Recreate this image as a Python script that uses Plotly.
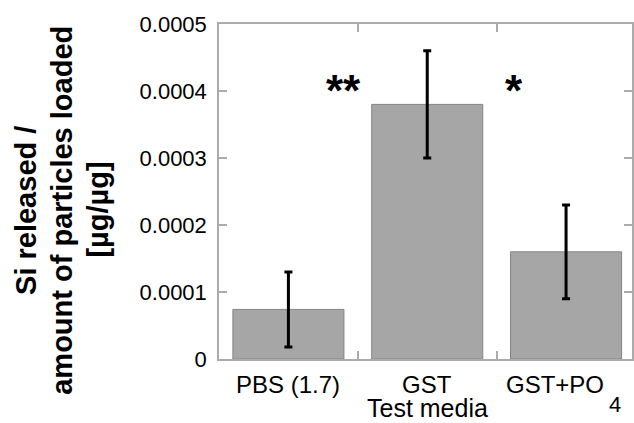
import plotly.graph_objects as go

categories = ["PBS (1.7)", "GST", "GST+PO4"]
tick_labels = ["PBS (1.7)", "GST", "GST+PO"]
label_subscripts = ["", "", "4"]
values = [0.000074, 0.00038, 0.00016]
errors = [0.000056, 0.00008, 0.00007]
ytick_vals = [0, 0.0001, 0.0002, 0.0003, 0.0004, 0.0005]
ytick_text = ["0", "0.0001", "0.0002", "0.0003", "0.0004", "0.0005"]
title_lines = ["Si released /", "amount of particles loaded", "[µg/µg]"]
sig_labels = ["**", "*"]

W, H = 634, 423
L, R, T, B = 219, 0, 24, 64
pw, ph = W - L - R, H - T - B

def px_x(px):
    return (px - L) / pw

def px_y(py):
    return (H - B - py) / ph

axis_col = "#ababab"
font_fam = "Liberation Sans, Arial, sans-serif"

fig = go.Figure()
fig.add_trace(go.Bar(
    x=categories, y=values, width=0.8,
    marker=dict(color="#a6a6a6", line=dict(color="#858585", width=1)),
    error_y=dict(type="data", array=errors, color="black", thickness=3, width=4),
))

annotations = []
for i, (line, pxx) in enumerate(zip(title_lines, [25, 61, 97])):
    annotations.append(dict(
        text="<b>" + line + "</b>", xref="paper", yref="paper",
        x=px_x(pxx), y=px_y(210), xanchor="center", yanchor="middle",
        textangle=-90, showarrow=False,
        font=dict(size=29, color="black", family=font_fam),
    ))
for lab, pxx in zip(sig_labels, [344, 515]):
    annotations.append(dict(
        text="<b>" + lab + "</b>", xref="paper", yref="paper",
        x=px_x(pxx), y=px_y(90), xanchor="center", yanchor="middle",
        showarrow=False, font=dict(size=44, color="black", family=font_fam),
    ))
# category labels placed on the category axis
for cat, lab, sub in zip(categories, tick_labels, label_subscripts):
    annotations.append(dict(
        text=lab, xref="x", yref="paper", x=cat, y=px_y(384.5),
        xanchor="center", yanchor="middle", showarrow=False, borderpad=0,
        xshift=-11 if sub else 0,
        font=dict(size=24, color="black", family=font_fam),
    ))
    if sub:
        annotations.append(dict(
            text=sub, xref="x", yref="paper", x=cat, y=px_y(404),
            xanchor="left", yanchor="middle", showarrow=False, borderpad=0,
            xshift=42, font=dict(size=22, color="black", family=font_fam),
        ))
annotations.append(dict(
    text="Test media", xref="paper", yref="paper",
    x=px_x(429), y=px_y(407.5), xanchor="center", yanchor="middle",
    showarrow=False, borderpad=0,
    font=dict(size=25, color="black", family=font_fam),
))

fig.update_layout(
    width=W, height=H,
    margin=dict(l=L, r=R, t=T, b=B, pad=0),
    paper_bgcolor="white", plot_bgcolor="white",
    showlegend=False,
    font=dict(family=font_fam, size=22, color="black"),
    annotations=annotations,
    xaxis=dict(
        type="category", range=[-0.5, 2.475],
        tickson="boundaries", ticks="inside", ticklen=8, tickwidth=1.5,
        tickcolor=axis_col, showline=True, linecolor=axis_col, linewidth=1.5,
        mirror="ticks", showgrid=False, zeroline=False, showticklabels=False,
    ),
    yaxis=dict(
        range=[0, 0.0005], tickvals=ytick_vals, ticktext=ytick_text,
        ticks="inside", ticklen=8, tickwidth=1.5, tickcolor=axis_col,
        showline=True, linecolor=axis_col, linewidth=1.5, mirror="ticks",
        showgrid=False, zeroline=False, ticklabelstandoff=6,
        tickfont=dict(size=22, color="black"),
    ),
)

fig.write_html("out.html")
